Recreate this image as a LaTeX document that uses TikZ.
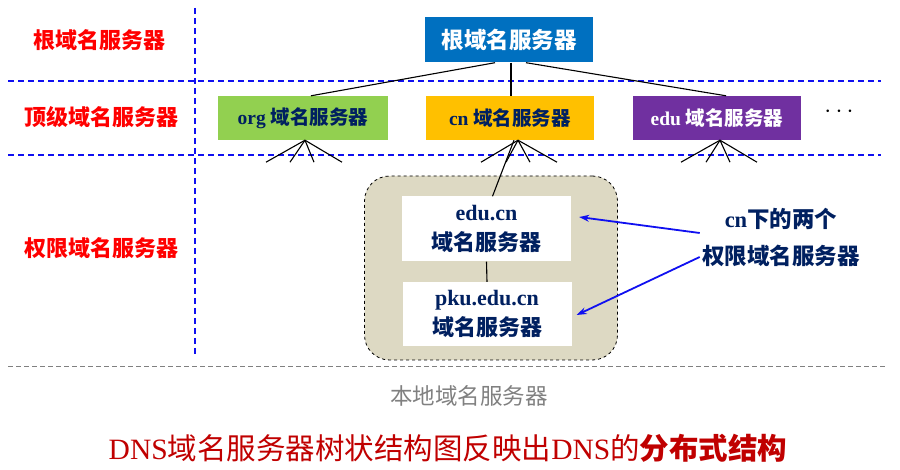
\documentclass[tikz,border=0pt]{standalone}
\usepackage{fontspec}
\setmainfont{Liberation Serif}
\newfontfamily\cjk{Noto Sans CJK SC}
\usetikzlibrary{arrows.meta}
\definecolor{rootblue}{HTML}{0070C0}
\definecolor{orggreen}{HTML}{92D050}
\definecolor{cnorange}{HTML}{FFC000}
\definecolor{edupurple}{HTML}{7030A0}
\definecolor{navy}{HTML}{002060}
\definecolor{regionfill}{HTML}{DDD9C3}
\definecolor{darkred}{HTML}{C00000}
\definecolor{linkblue}{HTML}{1010F0}
\tikzset{
  sep/.style={draw=linkblue, line width=1.3pt, dash pattern=on 6pt off 4pt},
  levellabel/.style={text=red, font=\cjk\bfseries\fontsize{22}{26}\selectfont},
  tldbox/.style={minimum width=168, minimum height=44, inner sep=0pt, font=\bfseries\fontsize{19.5}{23}\selectfont},
  authbox/.style={fill=white, minimum width=169, minimum height=64, inner sep=0pt, align=center, text=navy, font=\bfseries\fontsize{22}{30}\selectfont},
  tree/.style={draw=black, line width=1.1pt},
  arr/.style={draw=linkblue, line width=1.8pt, -{Stealth[length=10pt,width=7pt]}},
}
\begin{document}
\begin{tikzpicture}[x=1pt,y=-1pt]
\useasboundingbox (0,0) rectangle (900,470);
% separators
\coordinate (vt) at (195,8); \coordinate (vb) at (195,357);
\coordinate (h1l) at (8,81); \coordinate (h1r) at (881,81);
\coordinate (h2l) at (8,155); \coordinate (h2r) at (881,155);
\draw[sep] (vt) -- (vb);
\draw[sep] (h1l) -- (h1r);
\draw[sep] (h2l) -- (h2r);
\coordinate (gl) at (8,367); \coordinate (gr) at (886,367);
\draw[gray, line width=1pt, dash pattern=on 5pt off 3pt] (gl) -- (gr);
% level labels
\node[levellabel] (l1) at (100,40) {根域名服务器};
\node[levellabel] (l2) at (101,117) {顶级域名服务器};
\node[levellabel] (l3) at (101,248) {权限域名服务器};
% region
\node[draw=black, dashed, line width=0.8pt, fill=regionfill, rounded corners=25pt, minimum width=253, minimum height=184, inner sep=0pt] (region) at (491,268) {};
% root and TLD
\node[tldbox, fill=rootblue, text=white, minimum height=45, font=\cjk\bfseries\fontsize{22.5}{26}\selectfont] (root) at (509,40) {根域名服务器};
\node[tldbox, fill=orggreen, text=navy, minimum width=170] (org) at (303,118) {org {\cjk 域名服务器}};
\node[tldbox, fill=cnorange, text=navy] (cn) at (510,118) {cn {\cjk 域名服务器}};
\node[tldbox, fill=edupurple, text=white] (edu) at (717,118) {edu {\cjk 域名服务器}};
\node (dots) at (839,112) {\fontsize{28}{30}\selectfont $\cdots$};
% auth boxes
\node[authbox, minimum height=65] (educn) at (486.5,229) {edu.cn\\{\cjk 域名服务器}};
\node[authbox] (pku) at (487,314) {pku.edu.cn\\{\cjk 域名服务器}};
% tree lines
\draw[tree] ([xshift=-14]root.south) -- ([xshift=8]org.north);
\draw[tree] ([xshift=2]root.south) -- ([xshift=1]cn.north);
\draw[tree] ([xshift=17]root.south) -- ([xshift=9]edu.north);
\foreach \dx in {-39,-15,9,37} \draw[tree] ([xshift=2]org.south) -- ++(\dx,22);
\foreach \dx in {-37,-12,12,39} \draw[tree] ([xshift=8]cn.south) -- ++(\dx,22);
\foreach \dx in {-39,-14,10,37} \draw[tree] ([xshift=3]edu.south) -- ++(\dx,22);
\draw[tree] ([xshift=4]cn.south) -- ([xshift=6]educn.north);
\draw[tree] (educn.south) -- (pku.north);
% note
\node[align=center, text=navy, font=\bfseries\fontsize{22.5}{37}\selectfont] (note) at (781,237) {cn{\cjk 下的两个}\\{\cjk 权限域名服务器}};
\draw[arr] ([xshift=1,yshift=4]note.west) -- ([xshift=8,yshift=12]educn.east);
\draw[arr] ([xshift=1,yshift=-20]note.west) -- ([xshift=5,yshift=-1]pku.east);
% bottom
\node[text=gray, font=\cjk\fontsize{22.5}{26}\selectfont] (local) at (469,396) {本地域名服务器};
\node[text=darkred, font=\fontsize{29.5}{32}\selectfont] (title) at (448,448) {DNS{\cjk 域名服务器树状结构图反映出}DNS{\cjk 的\bfseries 分布式结构}};
\end{tikzpicture}
\end{document}
